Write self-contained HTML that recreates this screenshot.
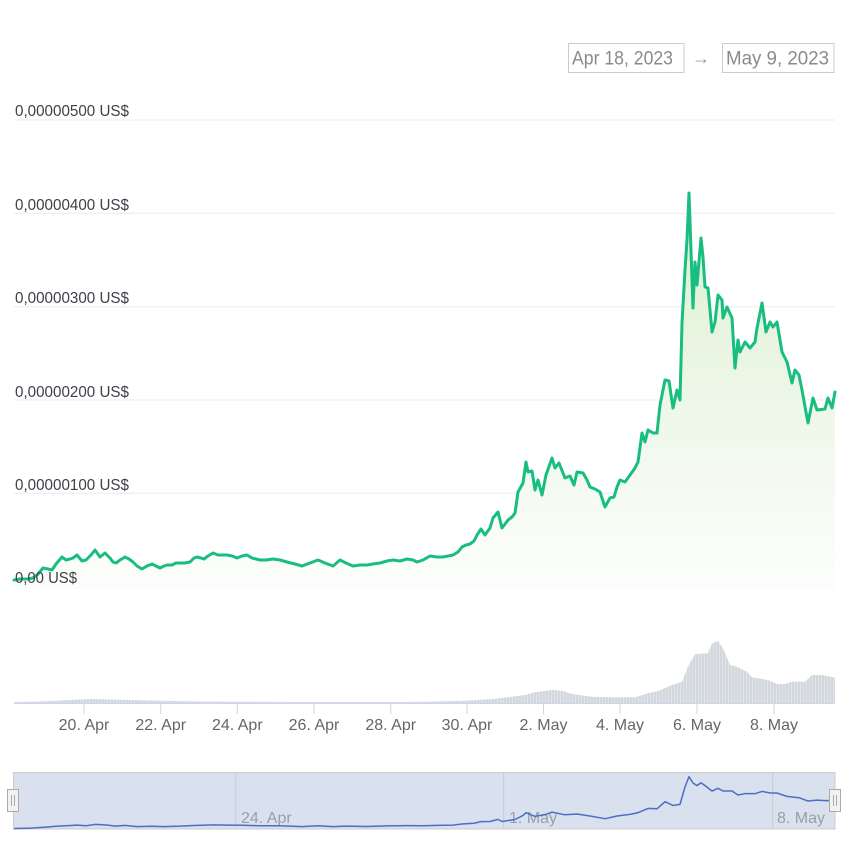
<!DOCTYPE html>
<html><head><meta charset="utf-8"><style>
html,body{margin:0;padding:0;background:#fff;}
svg{display:block;font-family:"Liberation Sans",sans-serif;}
</style></head><body>
<svg width="850" height="850" viewBox="0 0 850 850" xmlns="http://www.w3.org/2000/svg">
<defs>
<linearGradient id="ag" x1="0" y1="193" x2="0" y2="587" gradientUnits="userSpaceOnUse">
<stop offset="0" stop-color="#dcefd1"/>
<stop offset="1" stop-color="#fdfefc"/>
</linearGradient>
<pattern id="vb" width="3" height="10" patternUnits="userSpaceOnUse">
<rect width="3" height="10" fill="#d2d6dd"/>
<rect x="2" width="1" height="10" fill="#e2e4e8"/>
</pattern>
</defs>
<rect width="850" height="850" fill="#fff"/>

<!-- date range boxes -->
<rect x="568.5" y="43.5" width="115.5" height="29" fill="#fff" stroke="#cccccc"/>
<text x="572" y="64.3" font-size="19" fill="#8a8a8a" textLength="101" lengthAdjust="spacingAndGlyphs">Apr 18, 2023</text>
<text x="692" y="64" font-size="18" fill="#999">→</text>
<rect x="722.5" y="43.5" width="111.5" height="29" fill="#fff" stroke="#cccccc"/>
<text x="726" y="64.3" font-size="19" fill="#8a8a8a" textLength="103" lengthAdjust="spacingAndGlyphs">May 9, 2023</text>

<!-- gridlines -->
<g stroke="#ebebeb" stroke-width="1">
<line x1="14" x2="835" y1="120" y2="120"/>
<line x1="14" x2="835" y1="213.3" y2="213.3"/>
<line x1="14" x2="835" y1="306.7" y2="306.7"/>
<line x1="14" x2="835" y1="400" y2="400"/>
<line x1="14" x2="835" y1="493.3" y2="493.3"/>
<line x1="14" x2="835" y1="586.7" y2="586.7"/>
</g>

<!-- area + line -->
<path d="M14,580 L20,579 L28,579 L33,578 L38,574 L43,568 L48,569 L52,570 L56,564 L62,557 L66,560 L70,559 L73,558 L77,555 L82,561 L86,560 L91,555 L95,550 L100,557 L105,553 L110,558 L113,562 L116,563 L120,560 L125,557 L129,559 L133,562 L137,566 L142,569 L147,566 L152,564 L156,566 L160,568 L164,566 L167,565 L172,565 L176,563 L180,563 L185,563 L190,562 L194,558 L197,557 L201,558 L204,559 L208,556 L213,553 L218,555 L222,555 L227,555 L232,556 L237,558 L242,556 L247,555 L252,558 L256,559 L260,560 L266,560 L273,559 L280,560 L287,562 L295,564 L302,566 L310,563 L318,560 L325,563 L333,566 L340,560 L346,563 L353,566 L360,565 L367,565 L373,564 L380,563 L387,561 L393,560 L400,561 L407,559 L413,560 L417,562 L423,560 L430,556 L437,557 L443,557 L448,556 L453,555 L458,552 L462,547 L466,545 L470,544 L474,541 L477,535 L481,529 L485,535 L490,528 L493,518 L498,512 L502,528 L508,520 L512,517 L515,513 L518,492 L523,483 L526,462 L528,472 L532,471 L535,490 L538,480 L542,495 L546,475 L552,458 L555,468 L559,463 L565,478 L570,476 L574,485 L577,472 L583,473 L587,480 L590,487 L595,489 L600,492 L605,507 L610,498 L614,497 L617,487 L620,480 L625,482 L630,475 L635,468 L638,462 L642,433 L645,442 L648,430 L653,433 L657,433 L660,405 L665,380 L669,381 L673,408 L677,390 L680,400 L682,323 L685,270 L687,240 L689,193 L693,308 L695,262 L697,285 L701,238 L703,257 L705,287 L708,288 L712,332 L715,322 L718,295 L722,300 L723,318 L727,307 L732,318 L735,368 L738,340 L740,352 L745,342 L750,348 L755,342 L757,328 L762,303 L766,332 L770,322 L773,327 L777,322 L782,352 L787,362 L792,383 L795,370 L799,375 L802,390 L808,423 L813,398 L817,410 L825,409 L828,398 L832,408 L835,392 L835,587 L14,587 Z" fill="url(#ag)"/>
<path d="M14,580 L20,579 L28,579 L33,578 L38,574 L43,568 L48,569 L52,570 L56,564 L62,557 L66,560 L70,559 L73,558 L77,555 L82,561 L86,560 L91,555 L95,550 L100,557 L105,553 L110,558 L113,562 L116,563 L120,560 L125,557 L129,559 L133,562 L137,566 L142,569 L147,566 L152,564 L156,566 L160,568 L164,566 L167,565 L172,565 L176,563 L180,563 L185,563 L190,562 L194,558 L197,557 L201,558 L204,559 L208,556 L213,553 L218,555 L222,555 L227,555 L232,556 L237,558 L242,556 L247,555 L252,558 L256,559 L260,560 L266,560 L273,559 L280,560 L287,562 L295,564 L302,566 L310,563 L318,560 L325,563 L333,566 L340,560 L346,563 L353,566 L360,565 L367,565 L373,564 L380,563 L387,561 L393,560 L400,561 L407,559 L413,560 L417,562 L423,560 L430,556 L437,557 L443,557 L448,556 L453,555 L458,552 L462,547 L466,545 L470,544 L474,541 L477,535 L481,529 L485,535 L490,528 L493,518 L498,512 L502,528 L508,520 L512,517 L515,513 L518,492 L523,483 L526,462 L528,472 L532,471 L535,490 L538,480 L542,495 L546,475 L552,458 L555,468 L559,463 L565,478 L570,476 L574,485 L577,472 L583,473 L587,480 L590,487 L595,489 L600,492 L605,507 L610,498 L614,497 L617,487 L620,480 L625,482 L630,475 L635,468 L638,462 L642,433 L645,442 L648,430 L653,433 L657,433 L660,405 L665,380 L669,381 L673,408 L677,390 L680,400 L682,323 L685,270 L687,240 L689,193 L693,308 L695,262 L697,285 L701,238 L703,257 L705,287 L708,288 L712,332 L715,322 L718,295 L722,300 L723,318 L727,307 L732,318 L735,368 L738,340 L740,352 L745,342 L750,348 L755,342 L757,328 L762,303 L766,332 L770,322 L773,327 L777,322 L782,352 L787,362 L792,383 L795,370 L799,375 L802,390 L808,423 L813,398 L817,410 L825,409 L828,398 L832,408 L835,392" fill="none" stroke="#18bd80" stroke-width="3" stroke-linejoin="round" stroke-linecap="round"/>

<!-- y labels -->
<g font-size="16" fill="#3d4148">
<text x="15" y="116" textLength="114" lengthAdjust="spacingAndGlyphs">0,00000500 US$</text>
<text x="15" y="210" textLength="114" lengthAdjust="spacingAndGlyphs">0,00000400 US$</text>
<text x="15" y="303" textLength="114" lengthAdjust="spacingAndGlyphs">0,00000300 US$</text>
<text x="15" y="397" textLength="114" lengthAdjust="spacingAndGlyphs">0,00000200 US$</text>
<text x="15" y="490" textLength="114" lengthAdjust="spacingAndGlyphs">0,00000100 US$</text>
<text x="15" y="583" textLength="62" lengthAdjust="spacingAndGlyphs">0,00 US$</text>
</g>

<!-- volume -->
<path d="M14,703 L14,702 L40,701.5 L70,700 L90,699 L110,699.5 L150,700.5 L200,701.5 L300,702 L400,702 L425,701.7 L465,700.7 L492,699 L508,697.3 L525,695 L535,692.3 L552,690 L562,690.7 L572,694 L592,696.7 L612,697.3 L635,697.3 L648,693.3 L658,691 L672,685 L682,681.7 L688,666.7 L695,654 L708,653.3 L712,643.3 L718,641 L723,648.3 L730,665 L737,666.7 L747,671.7 L752,677.3 L768,680 L777,684 L785,684 L792,681.7 L805,681.7 L812,675 L822,675 L835,677.7 L835,703 Z" fill="url(#vb)"/>

<!-- x axis -->
<line x1="14" x2="835" y1="703.5" y2="703.5" stroke="#ccd6eb"/>
<g stroke="#ccd6eb">
<line x1="84" x2="84" y1="703" y2="714"/>
<line x1="160.7" x2="160.7" y1="703" y2="714"/>
<line x1="237.3" x2="237.3" y1="703" y2="714"/>
<line x1="314" x2="314" y1="703" y2="714"/>
<line x1="390.7" x2="390.7" y1="703" y2="714"/>
<line x1="467" x2="467" y1="703" y2="714"/>
<line x1="543.5" x2="543.5" y1="703" y2="714"/>
<line x1="620" x2="620" y1="703" y2="714"/>
<line x1="697" x2="697" y1="703" y2="714"/>
<line x1="774" x2="774" y1="703" y2="714"/>
</g>
<g font-size="16" fill="#666" text-anchor="middle">
<text x="84" y="730">20. Apr</text>
<text x="160.7" y="730">22. Apr</text>
<text x="237.3" y="730">24. Apr</text>
<text x="314" y="730">26. Apr</text>
<text x="390.7" y="730">28. Apr</text>
<text x="467" y="730">30. Apr</text>
<text x="543.5" y="730">2. May</text>
<text x="620" y="730">4. May</text>
<text x="697" y="730">6. May</text>
<text x="774" y="730">8. May</text>
</g>

<!-- navigator -->
<rect x="13.5" y="772.5" width="821.5" height="56.5" fill="#d9e0ee" stroke="#cccccc"/>
<g stroke="#c5cbd8">
<line x1="235.7" x2="235.7" y1="773" y2="829"/>
<line x1="503.7" x2="503.7" y1="773" y2="829"/>
<line x1="772.7" x2="772.7" y1="773" y2="829"/>
</g>
<g font-size="16" fill="#9a9ea8">
<text x="241" y="823">24. Apr</text>
<text x="509" y="823">1. May</text>
<text x="777" y="823">8. May</text>
</g>
<g transform="matrix(1,0,0,0.1337,0,750.9)">
<path d="M14,580 L28,579 L38,574 L48,569 L56,564 L66,560 L77,555 L86,560 L95,550 L105,553 L116,563 L125,557 L137,566 L152,564 L164,566 L180,563 L194,558 L213,553 L227,555 L242,556 L260,560 L280,560 L302,566 L318,560 L333,566 L346,563 L367,565 L387,561 L407,559 L423,560 L437,557 L453,555 L462,547 L474,541 L481,529 L490,528 L498,512 L502,528 L515,513 L523,483 L526,462 L535,490 L546,475 L552,458 L565,478 L577,472 L590,487 L605,507 L617,487 L630,475 L638,462 L648,430 L657,433 L665,380 L673,408 L680,400 L685,270 L689,193 L693,240 L697,260 L701,238 L705,260 L712,300 L718,280 L723,300 L732,300 L738,330 L745,320 L755,320 L762,303 L770,315 L777,315 L787,340 L799,350 L808,375 L817,368 L825,372 L835,370" fill="none" stroke="#4a70c2" stroke-width="1.5" vector-effect="non-scaling-stroke" stroke-linejoin="round"/>
</g>
<!-- handles -->
<g fill="#f2f2f2" stroke="#aaaaaa">
<rect x="7.5" y="789.5" width="11" height="22"/>
<rect x="829.5" y="789.5" width="11" height="22"/>
</g>
<g stroke="#aaaaaa">
<line x1="11.5" x2="11.5" y1="795" y2="806"/>
<line x1="14.5" x2="14.5" y1="795" y2="806"/>
<line x1="833.5" x2="833.5" y1="795" y2="806"/>
<line x1="836.5" x2="836.5" y1="795" y2="806"/>
</g>
</svg>
</body></html>
